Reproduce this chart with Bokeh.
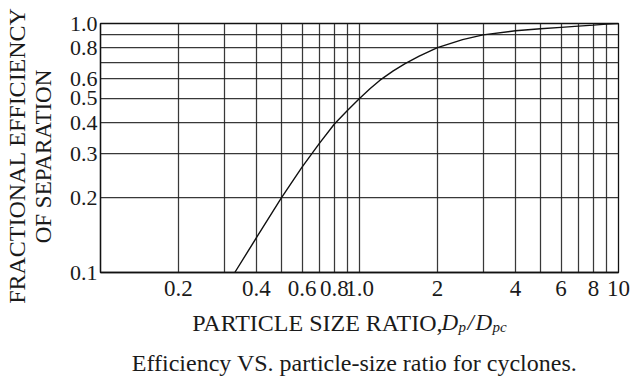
import math
from bokeh.plotting import figure
from bokeh.models import FixedTicker, Label, Range1d
from bokeh.layouts import row, column
from bokeh.embed import file_html
from bokeh.resources import INLINE

# ---- data ----
size_ratio = [0.33, 0.40, 0.50, 0.60, 0.70, 0.80, 0.90, 1.00, 1.10, 1.20, 1.35, 1.50, 1.70, 2.00, 2.50, 3.00, 4.00, 5.00, 6.00, 7.00, 8.00, 9.00, 10.0]
efficiency = [0.100, 0.138, 0.200, 0.265, 0.330, 0.395, 0.448, 0.500, 0.548, 0.592, 0.645, 0.690, 0.740, 0.800, 0.862, 0.900, 0.935, 0.952, 0.965, 0.976, 0.985, 0.994, 1.000]

x_tick_values = [0.2, 0.4, 0.6, 0.8, 1.0, 2, 4, 6, 8, 10]
x_tick_labels = ["0.2", "0.4", "0.6", "0.8", "1.0", "2", "4", "6", "8", "10"]
y_tick_values = [0.1, 0.2, 0.3, 0.4, 0.5, 0.6, 0.8, 1.0]
y_tick_labels = ["0.1", "0.2", "0.3", "0.4", "0.5", "0.6", "0.8", "1.0"]
x_grid_values = [0.2, 0.3, 0.4, 0.5, 0.6, 0.7, 0.8, 0.9, 1, 2, 3, 4, 5, 6, 7, 8, 9, 10]
y_grid_values = [0.1, 0.2, 0.3, 0.4, 0.5, 0.6, 0.7, 0.8, 0.9, 1.0]

y_title_lines = ["FRACTIONAL EFFICIENCY", "OF SEPARATION"]
x_title_main = "PARTICLE SIZE RATIO,"
caption = "Efficiency VS. particle-size ratio for cyclones."

FONT = "Liberation Serif"
INK = "#1a1a1a"

LEFT_W = 60
MAIN_W = 635 - LEFT_W
MAIN_H = 304
TOTAL_H = 387
BOTTOM_H = TOTAL_H - MAIN_H
FRAME_LEFT_ABS = 100

# ---------------- main chart ----------------
p = figure(width=MAIN_W, height=MAIN_H, x_axis_type="log", y_axis_type="log",
           x_range=(0.1, 10), y_range=(0.1, 1.0),
           output_backend="svg", toolbar_location=None,
           min_border_left=FRAME_LEFT_ABS - LEFT_W, min_border_right=17, min_border_top=23,
           min_border_bottom=MAIN_H - 23 - 249,
           background_fill_color="white", border_fill_color="white")

p.outline_line_color = "#111111"
p.outline_line_width = 1.3

for ax, vals, labs in ((p.xaxis[0], x_tick_values, x_tick_labels), (p.yaxis[0], y_tick_values, y_tick_labels)):
    ax.ticker = FixedTicker(ticks=vals)
    ax.major_label_overrides = {float(v): l for v, l in zip(vals, labs)}
    ax.major_tick_line_color = None
    ax.minor_tick_line_color = None
    ax.major_tick_out = 0
    ax.minor_tick_out = 0
    ax.major_tick_in = 0
    ax.minor_tick_in = 0
    ax.axis_line_color = "#111111"
    ax.axis_line_width = 1.3
    ax.major_label_text_font = FONT
    ax.major_label_text_color = INK

p.xaxis.major_label_text_font_size = "23px"
p.yaxis.major_label_text_font_size = "22px"
p.xaxis.major_label_standoff = 8
p.yaxis.major_label_standoff = 3

p.xgrid.ticker = FixedTicker(ticks=x_grid_values)
p.ygrid.ticker = FixedTicker(ticks=y_grid_values)
for g in (p.xgrid[0], p.ygrid[0]):
    g.grid_line_color = "#222222"
    g.grid_line_width = 1.25
    g.grid_line_alpha = 0.9

p.line(size_ratio, efficiency, line_color="#111111", line_width=1.4)


def text_panel(w, h):
    f = figure(width=w, height=h, x_range=Range1d(0, w), y_range=Range1d(0, h),
               output_backend="svg", toolbar_location=None,
               x_axis_location=None, y_axis_location=None, min_border=0,
               background_fill_color="white", border_fill_color="white")
    f.outline_line_color = None
    f.grid.visible = False
    return f


def put(f, text, x, y, **kw):
    f.add_layout(Label(x=x, y=y, x_units="screen", y_units="screen",
                       text=text, text_font=FONT, text_color=INK, **kw))


# ---------------- left panel: y-axis title ----------------
left = text_panel(LEFT_W, TOTAL_H)
put(left, y_title_lines[0], 16, TOTAL_H - 155, angle=math.pi / 2, text_align="center",
    text_baseline="middle", text_font_size="24px")
put(left, y_title_lines[1], 43, TOTAL_H - 156, angle=math.pi / 2, text_align="center",
    text_baseline="middle", text_font_size="23px")

# ---------------- bottom panel: x-axis title + caption ----------------
# (its frame is aligned with the main chart's frame by the column layout)
bottom = text_panel(MAIN_W, BOTTOM_H)
V_FIX = 5


def put_b(text, x_abs, base_abs, **kw):
    put(bottom, text, x_abs - FRAME_LEFT_ABS, TOTAL_H - base_abs + V_FIX,
        text_baseline="alphabetic", **kw)


put_b(x_title_main, 442, 327, text_align="right", text_font_size="24px")
for txt, xa, ba, fs in [("D", 441, 327, "23px"), ("p", 458, 331, "15px"), ("/", 467, 327, "23px"),
                        ("D", 475, 327, "23px"), ("pc", 492, 331, "15px")]:
    put_b(txt, xa, ba, text_align="left", text_font_style="italic", text_font_size=fs)

put_b(caption, 354, 367, text_align="center", text_font_size="24px")

layout = row(left, column(p, bottom, spacing=0), spacing=0)
open("out.html", "w").write(file_html(layout, INLINE))
